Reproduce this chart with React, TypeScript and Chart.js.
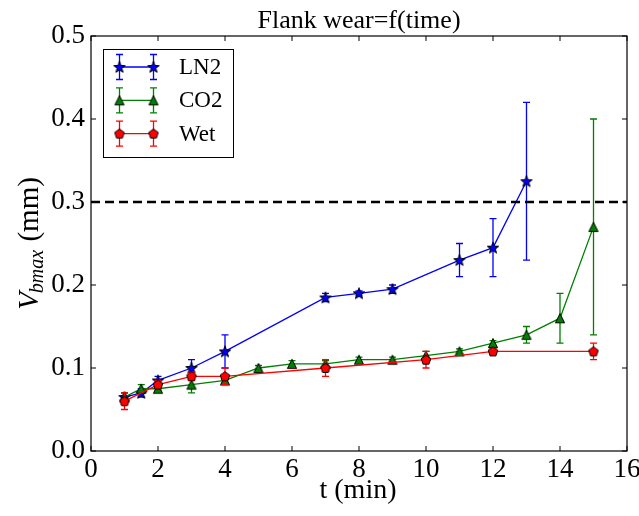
import { useEffect, useRef } from 'react';
import { Chart, registerables } from 'chart.js';

Chart.register(...registerables);

const W = 639;
const H = 516;
const FONT = '"Liberation Serif", "Times New Roman", serif';

const chartTitle = 'Flank wear=f(time)';
const xAxisLabel = 't (min)';

const seriesNames = ['LN2', 'CO2', 'Wet'];
const seriesColors = ['#0000ff', '#008000', '#ff0000'];

const ln2Time = [1, 1.5, 2, 3, 4, 7, 8, 9, 11, 12, 13];
const ln2Wear = [0.065, 0.07, 0.085, 0.1, 0.12, 0.185, 0.19, 0.195, 0.23, 0.245, 0.325];
const ln2Err = [0.005, 0.005, 0.005, 0.01, 0.02, 0.005, 0.003, 0.005, 0.02, 0.035, 0.095];

const co2Time = [1, 1.5, 2, 3, 4, 5, 6, 7, 8, 9, 10, 11, 12, 13, 14, 15];
const co2Wear = [0.065, 0.075, 0.075, 0.08, 0.085, 0.1, 0.105, 0.105, 0.11, 0.11, 0.115, 0.12, 0.13, 0.14, 0.16, 0.27];
const co2Err = [0.005, 0.005, 0.003, 0.01, 0.003, 0.003, 0.004, 0.004, 0.003, 0.003, 0.005, 0.003, 0.003, 0.01, 0.03, 0.13];

const wetTime = [1, 2, 3, 4, 7, 10, 12, 15];
const wetWear = [0.06, 0.08, 0.09, 0.09, 0.1, 0.11, 0.12, 0.12];
const wetErr = [0.01, 0.005, 0.005, 0.01, 0.01, 0.01, 0.003, 0.01];

const thresholdValue = 0.3;

const xTickValues = [0, 2, 4, 6, 8, 10, 12, 14, 16];
const xTickLabels = ['0', '2', '4', '6', '8', '10', '12', '14', '16'];
const yTickValues = [0, 0.1, 0.2, 0.3, 0.4, 0.5];
const yTickLabels = ['0.0', '0.1', '0.2', '0.3', '0.4', '0.5'];

type Kind = 'star' | 'triangle' | 'pentagon';

function makeMarker(kind: Kind, fill: string): HTMLCanvasElement {
  const size = 16;
  const c = document.createElement('canvas');
  c.width = size;
  c.height = size;
  const ctx = c.getContext('2d')!;
  const cx = size / 2;
  const cy = size / 2;
  ctx.beginPath();
  if (kind === 'star') {
    const R = 6;
    const r = 2.5;
    for (let k = 0; k < 10; k++) {
      const a = -Math.PI / 2 + (k * Math.PI) / 5;
      const rad = k % 2 === 0 ? R : r;
      ctx.lineTo(cx + rad * Math.cos(a), cy + rad * Math.sin(a) + 0.5);
    }
  } else if (kind === 'triangle') {
    const r = 4.6;
    ctx.moveTo(cx, cy - r);
    ctx.lineTo(cx + r, cy + r);
    ctx.lineTo(cx - r, cy + r);
  } else {
    const R = 5;
    for (let k = 0; k < 5; k++) {
      const a = -Math.PI / 2 + (k * 2 * Math.PI) / 5;
      ctx.lineTo(cx + R * Math.cos(a), cy + R * Math.sin(a) + 0.4);
    }
  }
  ctx.closePath();
  ctx.fillStyle = fill;
  ctx.fill();
  ctx.lineWidth = 1;
  ctx.strokeStyle = '#000';
  ctx.stroke();
  return c;
}

export default function App() {
  const ref = useRef<HTMLCanvasElement | null>(null);

  useEffect(() => {
    if (!ref.current) return;
    const markers = [
      makeMarker('star', seriesColors[0]),
      makeMarker('triangle', seriesColors[1]),
      makeMarker('pentagon', seriesColors[2]),
    ];
    const times = [ln2Time, co2Time, wetTime];
    const wears = [ln2Wear, co2Wear, wetWear];
    const errs = [ln2Err, co2Err, wetErr];

    const seriesDatasets = seriesNames.map((name, i) => ({
      type: 'line' as const,
      label: name,
      data: times[i].map((t, j) => ({ x: t, y: wears[i][j] })),
      borderColor: seriesColors[i],
      backgroundColor: seriesColors[i],
      borderWidth: 1.3,
      pointStyle: markers[i],
      pointRadius: 5,
      tension: 0,
      order: 3 - i,
    }));

    const thresholdDataset = {
      type: 'line' as const,
      label: 'threshold',
      data: [
        { x: xTickValues[0], y: thresholdValue },
        { x: xTickValues[xTickValues.length - 1], y: thresholdValue },
      ],
      borderColor: '#000',
      borderWidth: 2.5,
      borderDash: [9, 5],
      pointRadius: 0,
      order: 0,
    };

    const drawErrorBar = (ctx: CanvasRenderingContext2D, x: number, yTop: number, yBot: number, color: string) => {
      ctx.strokeStyle = color;
      ctx.lineWidth = 1.3;
      ctx.beginPath();
      ctx.moveTo(x, yTop);
      ctx.lineTo(x, yBot);
      ctx.moveTo(x - 3.5, yTop);
      ctx.lineTo(x + 3.5, yTop);
      ctx.moveTo(x - 3.5, yBot);
      ctx.lineTo(x + 3.5, yBot);
      ctx.stroke();
    };

    const decor = {
      id: 'decor',
      beforeDatasetDraw(chart: any, args: any) {
        const i = args.index;
        if (i > 2) return;
        const ctx = chart.ctx as CanvasRenderingContext2D;
        const ys = chart.scales.y;
        const meta = chart.getDatasetMeta(i);
        ctx.save();
        meta.data.forEach((pt: any, j: number) => {
          const v = wears[i][j];
          const e = errs[i][j];
          drawErrorBar(ctx, pt.x, ys.getPixelForValue(v + e), ys.getPixelForValue(v - e), seriesColors[i]);
        });
        ctx.restore();
      },
      afterDraw(chart: any) {
        const ctx = chart.ctx as CanvasRenderingContext2D;
        const a = chart.chartArea;
        const xs = chart.scales.x;
        const ys = chart.scales.y;
        ctx.save();
        // frame
        ctx.strokeStyle = '#000';
        ctx.lineWidth = 1.2;
        ctx.strokeRect(a.left, a.top, a.right - a.left, a.bottom - a.top);
        // inward ticks
        ctx.lineWidth = 1;
        ctx.beginPath();
        const tl = 5;
        xTickValues.forEach((v) => {
          const px = xs.getPixelForValue(v);
          ctx.moveTo(px, a.bottom);
          ctx.lineTo(px, a.bottom - tl);
          ctx.moveTo(px, a.top);
          ctx.lineTo(px, a.top + tl);
        });
        yTickValues.forEach((v) => {
          const py = ys.getPixelForValue(v);
          ctx.moveTo(a.left, py);
          ctx.lineTo(a.left + tl, py);
          ctx.moveTo(a.right, py);
          ctx.lineTo(a.right - tl, py);
        });
        ctx.stroke();

        const cx = (a.left + a.right) / 2;
        const cy = (a.top + a.bottom) / 2;
        ctx.fillStyle = '#000';
        // title
        ctx.font = `26px ${FONT}`;
        ctx.textAlign = 'center';
        ctx.textBaseline = 'alphabetic';
        ctx.fillText(chartTitle, cx, a.top - 8);
        // x label
        ctx.font = `28px ${FONT}`;
        ctx.fillText(xAxisLabel, cx - 1, 498);
        // y label
        ctx.save();
        ctx.translate(38, cy);
        ctx.rotate(-Math.PI / 2);
        ctx.textAlign = 'left';
        const fMain = `italic 29px ${FONT}`;
        const fSub = `italic 20px ${FONT}`;
        const fRest = `29px ${FONT}`;
        ctx.font = fMain;
        const wV = ctx.measureText('V').width;
        ctx.font = fSub;
        const wS = ctx.measureText('bmax').width;
        ctx.font = fRest;
        const wR = ctx.measureText(' (mm)').width;
        let x0 = -(wV + wS + wR) / 2;
        ctx.font = fMain;
        ctx.fillText('V', x0, 0);
        x0 += wV - 1;
        ctx.font = fSub;
        ctx.fillText('bmax', x0, 5);
        x0 += wS + 1;
        ctx.font = fRest;
        ctx.fillText(' (mm)', x0, 0);
        ctx.restore();

        // legend
        const lx = a.left + 12;
        const ly = a.top + 13;
        ctx.fillStyle = '#fff';
        ctx.fillRect(lx, ly, 130, 108);
        ctx.strokeStyle = '#000';
        ctx.lineWidth = 1;
        ctx.strokeRect(lx + 0.5, ly + 0.5, 130, 108);
        ctx.font = `23px ${FONT}`;
        ctx.textAlign = 'left';
        ctx.textBaseline = 'middle';
        seriesNames.forEach((name, i) => {
          const ey = ly + 18 + i * 33.3;
          const m1 = lx + 16.5;
          const m2 = lx + 50.5;
          ctx.strokeStyle = seriesColors[i];
          ctx.lineWidth = 1.3;
          ctx.beginPath();
          ctx.moveTo(m1, ey);
          ctx.lineTo(m2, ey);
          ctx.stroke();
          drawErrorBar(ctx, m1, ey - 12.5, ey + 12.5, seriesColors[i]);
          drawErrorBar(ctx, m2, ey - 12.5, ey + 12.5, seriesColors[i]);
          const mk = markers[i];
          ctx.drawImage(mk, m1 - mk.width / 2, ey - mk.height / 2);
          ctx.drawImage(mk, m2 - mk.width / 2, ey - mk.height / 2);
          ctx.fillStyle = '#000';
          ctx.fillText(name, lx + 76, ey + 1);
        });
        ctx.restore();
      },
    };

    const chart = new Chart(ref.current, {
      type: 'line',
      data: { datasets: [...seriesDatasets, thresholdDataset] as any },
      options: {
        responsive: false,
        animation: false,
        devicePixelRatio: 1,
        layout: { padding: { top: 36, right: 12, left: 0, bottom: 0 } },
        plugins: {
          legend: { display: false },
          title: { display: false },
          tooltip: { enabled: false },
        },
        scales: {
          x: {
            type: 'linear',
            min: xTickValues[0],
            max: xTickValues[xTickValues.length - 1],
            grid: { display: false, drawTicks: false },
            border: { display: false },
            afterBuildTicks: (s: any) => {
              s.ticks = xTickValues.map((v) => ({ value: v }));
            },
            ticks: {
              autoSkip: false,
              maxRotation: 0,
              padding: 3,
              color: '#000',
              font: { family: FONT, size: 27 },
              callback: (v: any) => {
                const k = xTickValues.indexOf(Number(v));
                return k >= 0 ? xTickLabels[k] : '';
              },
            },
            afterFit: (s: any) => {
              s.height = 65;
              s.paddingLeft = 0;
              s.paddingRight = 0;
            },
          },
          y: {
            type: 'linear',
            min: yTickValues[0],
            max: yTickValues[yTickValues.length - 1],
            grid: { display: false, drawTicks: false },
            border: { display: false },
            afterBuildTicks: (s: any) => {
              s.ticks = yTickValues.map((v) => ({ value: v }));
            },
            ticks: {
              autoSkip: false,
              padding: 6,
              color: '#000',
              font: { family: FONT, size: 27 },
              callback: (v: any) => {
                let k = -1;
                yTickValues.forEach((t, idx) => {
                  if (Math.abs(t - Number(v)) < 1e-9) k = idx;
                });
                return k >= 0 ? yTickLabels[k] : '';
              },
            },
            afterFit: (s: any) => {
              s.width = 91;
              s.paddingTop = 0;
              s.paddingBottom = 0;
            },
          },
        },
      },
      plugins: [decor],
    });
    return () => chart.destroy();
  }, []);

  return (
    <div style={{ position: 'fixed', left: 0, top: 0, width: W, height: H, background: '#fff' }}>
      <canvas ref={ref} width={W} height={H} style={{ display: 'block', width: W, height: H }} />
    </div>
  );
}
